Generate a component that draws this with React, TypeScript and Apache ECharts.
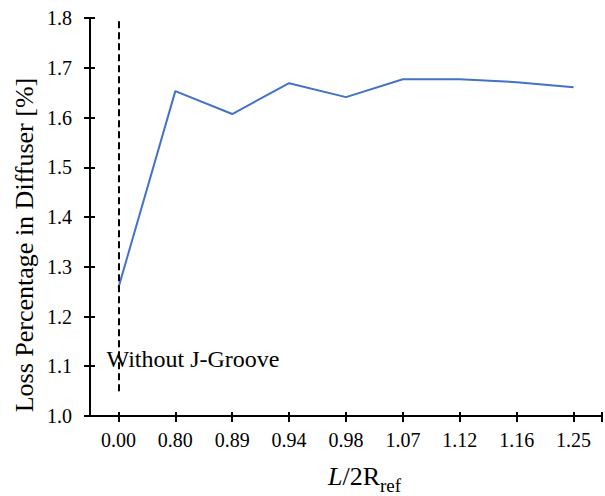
import React, { useEffect, useRef } from "react";
import * as echarts from "echarts";

const categories = ["0.00", "0.80", "0.89", "0.94", "0.98", "1.07", "1.12", "1.16", "1.25"];
const lossValues = [1.258, 1.653, 1.607, 1.669, 1.641, 1.677, 1.677, 1.671, 1.661];
const yMin = 1.0;
const yMax = 1.8;
const yStep = 0.1;
const refLineRange = [1.05, 1.8];
const annotationText = "Without J-Groove";
const annotationValue = 1.114;
const yTitle = "Loss Percentage in Diffuser [%]";

const FONT = '"Liberation Serif", "Times New Roman", serif';

export default function App() {
  const ref = useRef<HTMLDivElement>(null);
  useEffect(() => {
    document.body.style.margin = "0";
    if (!ref.current) return;
    const chart = echarts.init(ref.current, undefined, { renderer: "svg" });
    const tickPos = categories.map((_, i) => i + 0.5).concat([categories.length]);
    const tickAxisBase = {
      type: "value",
      min: 0,
      max: categories.length,
      position: "bottom",
      axisLine: { show: false },
      axisLabel: { show: false },
      splitLine: { show: false },
    };
    chart.setOption({
      animation: false,
      backgroundColor: "#ffffff",
      textStyle: { fontFamily: FONT, color: "#000" },
      grid: { left: 90, right: 3, top: 18, bottom: 80, containLabel: false, outerBoundsMode: "none" },
      xAxis: [
        {
          type: "category",
          data: categories,
          boundaryGap: true,
          axisLine: { show: true, lineStyle: { color: "#000", width: 2 } },
          axisTick: { show: false },
          axisLabel: { color: "#000", fontSize: 20, fontFamily: FONT, margin: 14 },
          splitLine: { show: false },
        },
        {
          ...tickAxisBase,
          axisTick: { show: true, inside: false, length: 6, lineStyle: { color: "#000", width: 2 }, customValues: tickPos },
        },
        {
          ...tickAxisBase,
          axisTick: { show: true, inside: true, length: 4, lineStyle: { color: "#000", width: 2 }, customValues: tickPos },
        },
      ],
      yAxis: [
        {
          type: "value",
          min: yMin,
          max: yMax,
          interval: yStep,
          axisLine: { show: true, lineStyle: { color: "#000", width: 2 } },
          axisTick: { show: true, inside: false, length: 6, lineStyle: { color: "#000", width: 2 } },
          axisLabel: {
            color: "#000",
            fontSize: 20,
            fontFamily: FONT,
            margin: 18,
            formatter: (v: number) => v.toFixed(1),
          },
          splitLine: { show: false },
        },
        {
          type: "value",
          min: yMin,
          max: yMax,
          interval: yStep,
          position: "left",
          axisLine: { show: false },
          axisTick: { show: true, inside: true, length: 5, lineStyle: { color: "#000", width: 2 } },
          axisLabel: { show: false },
          splitLine: { show: false },
        },
      ],
      graphic: [
        {
          type: "text",
          x: 24,
          y: 245,
          rotation: Math.PI / 2,
          style: {
            text: yTitle,
            fontFamily: FONT,
            fontSize: 26,
            fill: "#000",
            align: "center",
            verticalAlign: "middle",
          },
        },
        {
          type: "text",
          left: 328,
          top: 463,
          style: {
            text: "{i|L}/2R{s|ref}",
            fontFamily: FONT,
            fontSize: 26,
            fill: "#000",
            rich: {
              i: { fontStyle: "italic", fontSize: 26, fontFamily: FONT },
              s: { fontSize: 19, fontFamily: FONT, padding: [19, 0, 0, 0], verticalAlign: "bottom" },
            },
          },
        },
      ],
      series: [
        {
          type: "line",
          data: lossValues,
          xAxisIndex: 0,
          yAxisIndex: 0,
          symbol: "none",
          lineStyle: { color: "#4472C4", width: 2 },
          markLine: {
            silent: true,
            symbol: "none",
            label: { show: false },
            lineStyle: { color: "#000", width: 2, type: [7, 4] },
            data: [[{ coord: [categories[0], refLineRange[0]] }, { coord: [categories[0], refLineRange[1]] }]],
          },
          markPoint: {
            silent: true,
            symbol: "circle",
            symbolSize: 0,
            data: [
              {
                coord: [categories[0], annotationValue],
                label: {
                  show: true,
                  formatter: annotationText,
                  position: [-12, 0],
                  align: "left",
                  verticalAlign: "middle",
                  fontSize: 24,
                  fontFamily: FONT,
                  color: "#000",
                },
              },
            ],
          },
        },
      ],
    });
    return () => chart.dispose();
  }, []);
  return <div ref={ref} style={{ width: 605, height: 496 }} />;
}
